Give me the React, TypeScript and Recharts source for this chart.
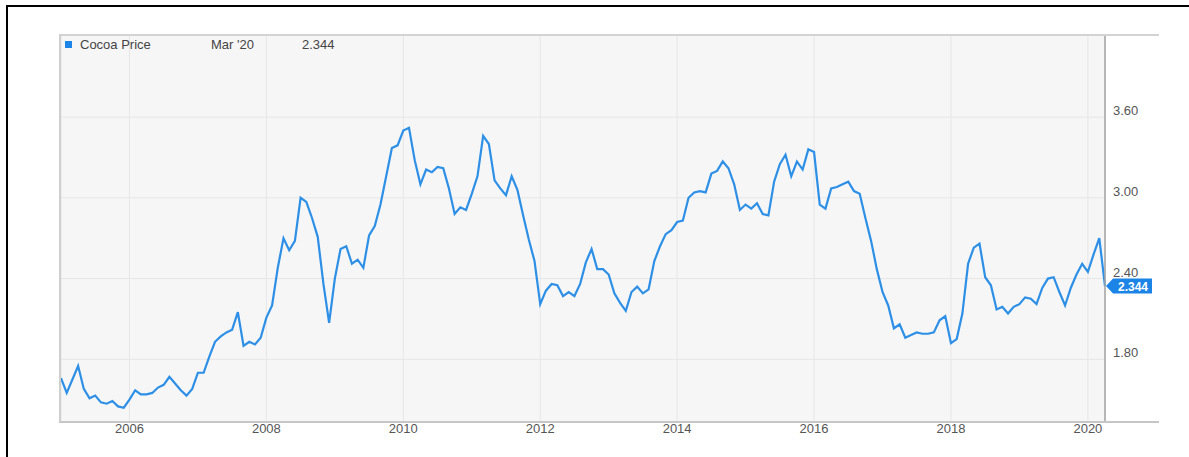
import {
  LineChart,
  Line,
  XAxis,
  YAxis,
  CartesianGrid,
  ReferenceDot,
} from "recharts";

// Monthly closes, first one sits on the 1 Jan 2005 line, last one is Mar '20
const FIRST_POINT = 2005;
const PRICES = [
  1.66, 1.55, 1.65, 1.75, 1.58, 1.51, 1.53, 1.48, 1.47, 1.49, 1.45, 1.44,
  1.5, 1.57, 1.54, 1.54, 1.55, 1.59, 1.61, 1.67, 1.62, 1.57, 1.53, 1.58,
  1.7, 1.7, 1.82, 1.93, 1.97, 2.0, 2.02, 2.15, 1.9, 1.93, 1.91, 1.96,
  2.11, 2.2, 2.48, 2.7, 2.61, 2.68, 3.0, 2.97, 2.85, 2.71, 2.36, 2.07,
  2.4, 2.62, 2.64, 2.51, 2.54, 2.48, 2.72, 2.79, 2.95, 3.16, 3.37, 3.39,
  3.5, 3.52, 3.28, 3.1, 3.21, 3.19, 3.23, 3.22, 3.07, 2.88, 2.93, 2.91,
  3.03, 3.16, 3.46, 3.4, 3.13, 3.07, 3.02, 3.16, 3.06, 2.87, 2.69, 2.53,
  2.21, 2.31, 2.36, 2.35, 2.27, 2.3, 2.27, 2.36, 2.52, 2.62, 2.47, 2.47,
  2.43, 2.29, 2.22, 2.16, 2.3, 2.34, 2.29, 2.32, 2.53, 2.64, 2.73, 2.76,
  2.82, 2.83, 3.0, 3.04, 3.05, 3.04, 3.18, 3.2, 3.27, 3.22, 3.1, 2.91,
  2.95, 2.92, 2.96, 2.88, 2.87, 3.12, 3.25, 3.32, 3.16, 3.27, 3.21, 3.36,
  3.34, 2.95, 2.92, 3.07, 3.08, 3.1, 3.12, 3.05, 3.03, 2.85, 2.68, 2.47,
  2.3, 2.2, 2.03, 2.06, 1.96, 1.98, 2.0, 1.99, 1.99, 2.0, 2.09, 2.12,
  1.92, 1.95, 2.14, 2.51, 2.63, 2.66, 2.41, 2.35, 2.17, 2.19, 2.14, 2.19,
  2.21, 2.26, 2.25, 2.21, 2.33, 2.4, 2.41, 2.3, 2.2, 2.33, 2.43, 2.51,
  2.45, 2.58, 2.7, 2.344,
];
const YEAR_TICKS = [2006, 2008, 2010, 2012, 2014, 2016, 2018, 2020];
const PRICE_TICKS = [1.8, 2.4, 3.0, 3.6];
const SERIES_NAME = "Cocoa Price";
const LAST_MONTH = "Mar '20";

const data = PRICES.map((price, i) => ({ t: FIRST_POINT + i / 12, price }));
const last = data[data.length - 1];

const LINE_BLUE = "#2d8fe6";
const FONT = '"Liberation Sans", Arial, sans-serif';

function YearTick({ x, y, payload }: any) {
  return (
    <text x={x} y={y + 3} textAnchor="middle" fill="#555" fontSize={13} fontFamily={FONT}>
      {payload.value}
    </text>
  );
}

function PriceTick({ x, y, payload }: any) {
  return (
    <text x={x} y={y - 2} textAnchor="start" fill="#555" fontSize={13} fontFamily={FONT}>
      {Number(payload.value).toFixed(2)}
    </text>
  );
}

// little blue flag on the right axis with the last value
function LastValueFlag({ cx, cy }: any) {
  const x0 = cx + 1;
  return (
    <g>
      <path
        d={`M${x0},${cy} L${x0 + 7},${cy - 7.5} L${x0 + 46},${cy - 7.5} L${x0 + 46},${cy + 7.5} L${x0 + 7},${cy + 7.5} Z`}
        fill="#1c84e6"
      />
      <text
        x={x0 + 27}
        y={cy + 4.5}
        textAnchor="middle"
        fill="#fff"
        fontSize={12}
        fontWeight="bold"
        fontFamily={FONT}
      >
        {last.price.toFixed(3)}
      </text>
    </g>
  );
}

export default function App() {
  return (
    <div
      style={{
        position: "absolute",
        left: 0,
        top: 0,
        width: 1189,
        height: 457,
        background: "#fff",
        fontFamily: FONT,
        overflow: "hidden",
      }}
    >
      <LineChart
        width={1189}
        height={457}
        data={data}
        margin={{ top: 35, right: 0, bottom: 0, left: 61 }}
      >
        <CartesianGrid stroke="#e6e6e6" fill="#f6f6f6" />
        <XAxis
          dataKey="t"
          type="number"
          domain={[2005, 2020.25]}
          ticks={YEAR_TICKS}
          height={35}
          axisLine={false}
          tickLine={false}
          tick={<YearTick />}
        />
        <YAxis
          orientation="right"
          type="number"
          domain={[1.334, 4.21]}
          ticks={PRICE_TICKS}
          width={84}
          axisLine={{ stroke: "#a3a3a3", strokeWidth: 1.5 }}
          tickLine={false}
          tick={<PriceTick />}
        />
        <Line
          type="linear"
          dataKey="price"
          stroke={LINE_BLUE}
          strokeWidth={2.2}
          dot={false}
          isAnimationActive={false}
        />
        <ReferenceDot
          x={last.t}
          y={last.price}
          ifOverflow="visible"
          shape={<LastValueFlag />}
        />
      </LineChart>

      {/* plot frame lines that run past the price axis */}
      <div style={{ position: "absolute", left: 59, top: 34, width: 1100, height: 2, background: "#d3d3d3" }} />
      <div style={{ position: "absolute", left: 59, top: 421, width: 1100, height: 2, background: "#c6c6c6" }} />
      <div style={{ position: "absolute", left: 59, top: 35, width: 2, height: 387, background: "#cfcfcf" }} />

      {/* legend row */}
      <div
        style={{
          position: "absolute",
          left: 65,
          top: 37,
          height: 16,
          fontSize: 13,
          color: "#444",
          lineHeight: "16px",
          whiteSpace: "nowrap",
        }}
      >
        <span style={{ display: "inline-block", width: 7, height: 7, background: "#1c84e6", marginRight: 8, verticalAlign: 1 }} />
        <span style={{ position: "absolute", left: 15 }}>{SERIES_NAME}</span>
        <span style={{ position: "absolute", left: 146 }}>{LAST_MONTH}</span>
        <span style={{ position: "absolute", left: 237 }}>{last.price.toFixed(3)}</span>
      </div>

      {/* outer black frame */}
      <div style={{ position: "absolute", left: 6, top: 5, width: 1183, height: 2, background: "#000" }} />
      <div style={{ position: "absolute", left: 6, top: 5, width: 2, height: 452, background: "#000" }} />
    </div>
  );
}
